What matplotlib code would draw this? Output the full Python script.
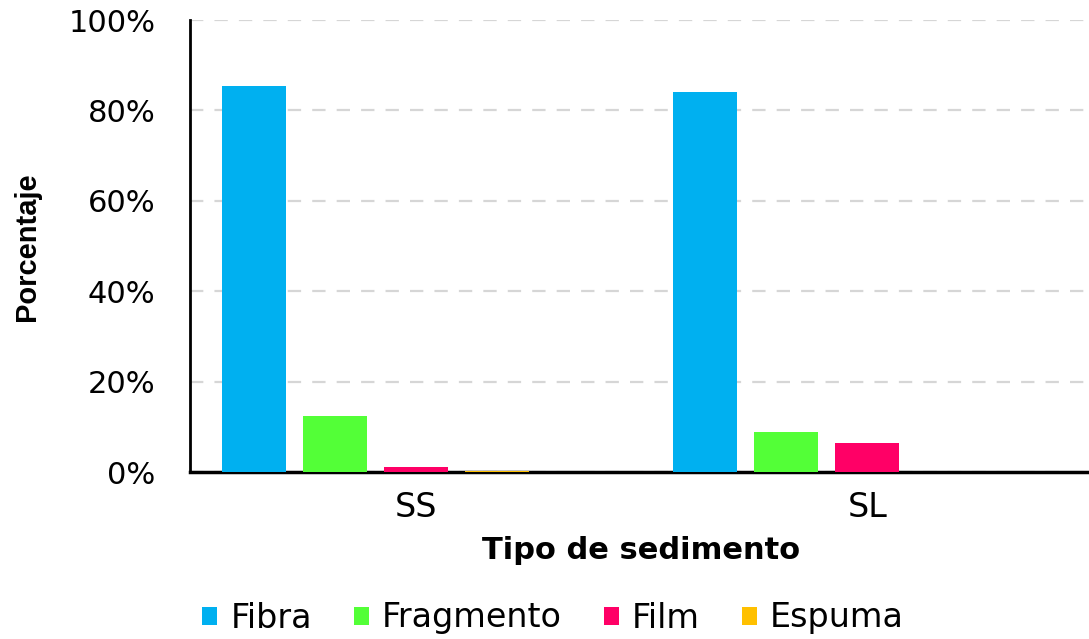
import matplotlib
matplotlib.use("Agg")
import matplotlib.pyplot as plt
import numpy as np
from matplotlib.ticker import FuncFormatter

categories = ["SS", "SL"]
series_names = ["Fibra", "Fragmento", "Film", "Espuma"]
fibra = [85.4, 84.1]
fragmento = [12.4, 8.9]
film = [1.0, 6.5]
espuma = [0.3, 0.0]
colors = ["#00B0F0", "#53FF37", "#FF0066", "#FFC000"]
yticks = [0, 20, 40, 60, 80, 100]

plt.rcParams['font.family'] = ['DejaVu Sans']

W, H = 1089, 639
fig = plt.figure(figsize=(W/100, H/100), dpi=100)
ax = fig.add_axes([190/W, (H-472)/H, 903/W, 452/H])

values = [fibra, fragmento, film, espuma]
x = np.arange(len(categories))
step = 0.1794
width = 0.1418
nslots = 5
for i, (name, vals, c) in enumerate(zip(series_names, values, colors)):
    off = (i - (nslots-1)/2) * step
    ax.bar(x + off, vals, width, color=c, label=name, zorder=3)

ax.set_xlim(-0.5, 1.5)
ax.set_ylim(0, 100)
ax.set_yticks(yticks)
ax.yaxis.set_major_formatter(FuncFormatter(lambda v, p: f"{int(v)}%"))
ax.set_xticks(x)
ax.set_xticklabels(categories)
ax.tick_params(axis='both', length=0, colors='black')
ax.tick_params(axis='y', pad=25, labelsize=22)
ax.tick_params(axis='x', pad=14, labelsize=24)
ax.grid(axis='y', color='#D6D6D6', linestyle=(0, (6, 5)), linewidth=1.6, zorder=0)
for s in ['top', 'right']:
    ax.spines[s].set_visible(False)
ax.spines['left'].set_linewidth(2)
ax.spines['bottom'].set_linewidth(2.5)

ax.set_xlabel("Tipo de sedimento", fontsize=22, fontweight='bold', labelpad=8)
fig.text(27/W, 1-247/H, "Porcentaje", rotation=90, fontsize=21, fontweight='bold',
         ha='center', va='center', family=['Liberation Sans', 'DejaVu Sans'])

ax.legend(loc='center', bbox_to_anchor=(553/W, 1-618/H), bbox_transform=fig.transFigure,
          ncol=4, frameon=False, fontsize=24, handlelength=0.45, handleheight=0.45,
          handletextpad=0.4, columnspacing=1.25)

fig.savefig("out.png", dpi=100)
